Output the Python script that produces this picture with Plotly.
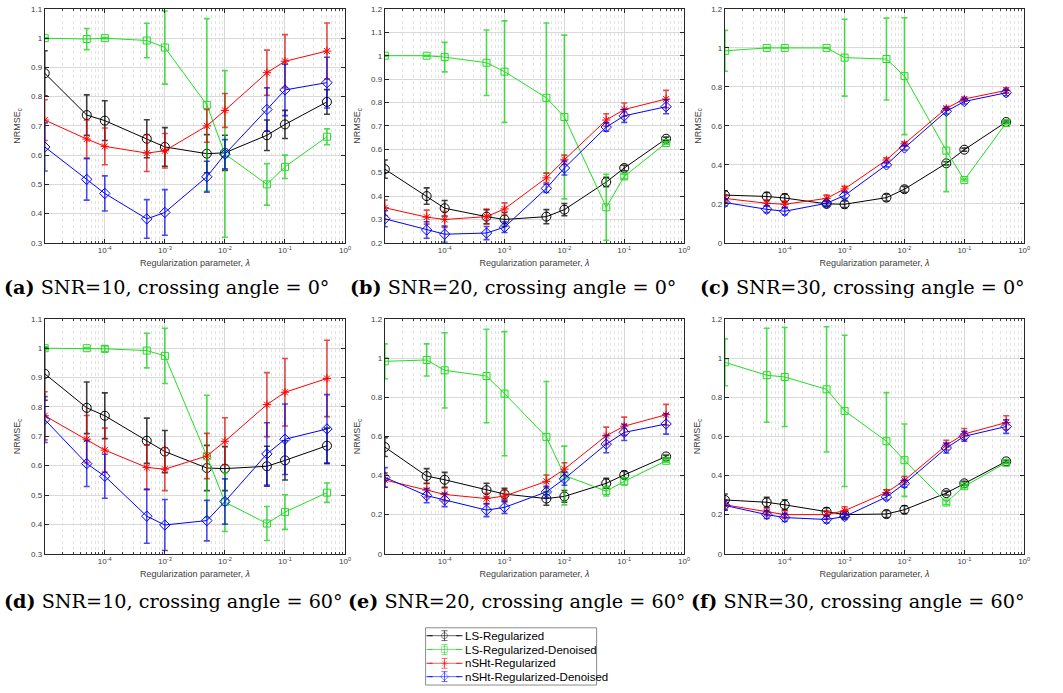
import plotly.graph_objects as go

# Regularization parameter values (x axis, log scale)
lam = [1e-5, 5e-5, 1e-4, 5e-4, 1e-3, 5e-3, 1e-2, 5e-2, 1e-1, 5e-1]

# ---- (a) SNR=10, crossing angle 0 deg ----
a_ls = [0.880, 0.737, 0.718, 0.656, 0.628, 0.605, 0.608, 0.668, 0.705, 0.782]
a_ls_sd = [0.077, 0.069, 0.068, 0.065, 0.066, 0.065, 0.060, 0.052, 0.048, 0.042]
a_lsd = [1.000, 0.997, 1.000, 0.992, 0.968, 0.772, 0.604, 0.500, 0.560, 0.663]
a_lsd_sd = [0.002, 0.036, 0.002, 0.059, 0.125, 0.295, 0.285, 0.071, 0.040, 0.027]
a_sh = [0.720, 0.655, 0.630, 0.607, 0.615, 0.700, 0.753, 0.882, 0.921, 0.956]
a_sh_sd = [0.070, 0.065, 0.063, 0.063, 0.059, 0.056, 0.058, 0.077, 0.091, 0.096]
a_shd = [0.628, 0.517, 0.469, 0.382, 0.404, 0.526, 0.603, 0.756, 0.823, 0.848]
a_shd_sd = [0.082, 0.071, 0.060, 0.066, 0.078, 0.053, 0.050, 0.074, 0.088, 0.087]

# ---- (b) SNR=20, crossing angle 0 deg ----
b_ls = [0.515, 0.400, 0.348, 0.312, 0.300, 0.312, 0.342, 0.460, 0.520, 0.645]
b_ls_sd = [0.039, 0.035, 0.033, 0.030, 0.030, 0.030, 0.026, 0.020, 0.012, 0.007]
b_lsd = [1.000, 1.000, 0.994, 0.970, 0.932, 0.820, 0.738, 0.352, 0.484, 0.627]
b_lsd_sd = [0.002, 0.002, 0.063, 0.140, 0.217, 0.320, 0.350, 0.141, 0.010, 0.005]
b_sh = [0.350, 0.310, 0.300, 0.312, 0.345, 0.478, 0.555, 0.725, 0.770, 0.815]
b_sh_sd = [0.033, 0.030, 0.034, 0.031, 0.026, 0.020, 0.020, 0.027, 0.028, 0.037]
b_shd = [0.303, 0.255, 0.237, 0.242, 0.267, 0.433, 0.520, 0.695, 0.743, 0.782]
b_shd_sd = [0.034, 0.035, 0.035, 0.028, 0.023, 0.018, 0.030, 0.018, 0.028, 0.030]

# ---- (c) SNR=30, crossing angle 0 deg ----
c_ls = [0.245, 0.238, 0.230, 0.200, 0.198, 0.232, 0.275, 0.408, 0.478, 0.620]
c_ls_sd = [0.022, 0.020, 0.020, 0.015, 0.017, 0.017, 0.015, 0.008, 0.008, 0.005]
c_lsd = [0.985, 1.000, 1.000, 1.000, 0.950, 0.943, 0.855, 0.473, 0.322, 0.615]
c_lsd_sd = [0.105, 0.002, 0.002, 0.002, 0.197, 0.210, 0.300, 0.210, 0.005, 0.005]
c_sh = [0.228, 0.203, 0.198, 0.228, 0.277, 0.425, 0.508, 0.690, 0.738, 0.782]
c_sh_sd = [0.018, 0.014, 0.017, 0.017, 0.013, 0.010, 0.009, 0.009, 0.009, 0.014]
c_shd = [0.207, 0.172, 0.162, 0.203, 0.243, 0.400, 0.487, 0.675, 0.725, 0.770]
c_shd_sd = [0.018, 0.017, 0.018, 0.013, 0.015, 0.010, 0.011, 0.014, 0.013, 0.015]

# ---- (d) SNR=10, crossing angle 60 deg ----
d_ls = [0.913, 0.797, 0.770, 0.685, 0.648, 0.592, 0.590, 0.598, 0.618, 0.668]
d_ls_sd = [0.090, 0.088, 0.078, 0.077, 0.072, 0.077, 0.075, 0.068, 0.067, 0.060]
d_lsd = [1.000, 1.000, 0.998, 0.992, 0.974, 0.632, 0.476, 0.403, 0.442, 0.508]
d_lsd_sd = [0.005, 0.002, 0.010, 0.059, 0.094, 0.208, 0.100, 0.058, 0.059, 0.033]
d_sh = [0.770, 0.690, 0.653, 0.594, 0.588, 0.633, 0.683, 0.808, 0.850, 0.897]
d_sh_sd = [0.082, 0.081, 0.075, 0.076, 0.073, 0.077, 0.080, 0.109, 0.115, 0.130]
d_shd = [0.757, 0.607, 0.564, 0.428, 0.398, 0.413, 0.478, 0.640, 0.690, 0.725]
d_shd_sd = [0.078, 0.078, 0.075, 0.092, 0.087, 0.069, 0.077, 0.106, 0.120, 0.117]

# ---- (e) SNR=20, crossing angle 60 deg ----
e_ls = [0.545, 0.397, 0.378, 0.325, 0.305, 0.282, 0.293, 0.360, 0.403, 0.497]
e_ls_sd = [0.048, 0.038, 0.038, 0.035, 0.030, 0.034, 0.030, 0.025, 0.018, 0.007]
e_lsd = [0.983, 0.990, 0.937, 0.908, 0.818, 0.597, 0.400, 0.320, 0.370, 0.475]
e_lsd_sd = [0.089, 0.082, 0.192, 0.239, 0.317, 0.283, 0.150, 0.025, 0.019, 0.007]
e_sh = [0.377, 0.325, 0.303, 0.282, 0.295, 0.370, 0.432, 0.603, 0.652, 0.710]
e_sh_sd = [0.037, 0.035, 0.033, 0.027, 0.030, 0.032, 0.033, 0.044, 0.046, 0.053]
e_shd = [0.390, 0.297, 0.275, 0.223, 0.237, 0.316, 0.383, 0.560, 0.620, 0.663]
e_shd_sd = [0.050, 0.036, 0.034, 0.033, 0.031, 0.029, 0.033, 0.044, 0.041, 0.052]

# ---- (f) SNR=30, crossing angle 60 deg ----
f_ls = [0.275, 0.263, 0.250, 0.215, 0.200, 0.203, 0.225, 0.310, 0.360, 0.472]
f_ls_sd = [0.030, 0.025, 0.026, 0.020, 0.015, 0.018, 0.020, 0.010, 0.010, 0.007]
f_lsd = [0.978, 0.912, 0.903, 0.840, 0.730, 0.575, 0.478, 0.262, 0.345, 0.465]
f_lsd_sd = [0.120, 0.240, 0.253, 0.320, 0.386, 0.248, 0.185, 0.010, 0.008, 0.005]
f_sh = [0.250, 0.213, 0.200, 0.200, 0.220, 0.313, 0.375, 0.555, 0.612, 0.670]
f_sh_sd = [0.025, 0.018, 0.020, 0.020, 0.020, 0.014, 0.020, 0.025, 0.028, 0.035]
f_shd = [0.247, 0.200, 0.185, 0.175, 0.190, 0.290, 0.358, 0.540, 0.600, 0.650]
f_shd_sd = [0.025, 0.020, 0.020, 0.017, 0.015, 0.015, 0.018, 0.025, 0.025, 0.035]

method_names = ["LS-Regularized", "LS-Regularized-Denoised",
                "nSHt-Regularized", "nSHt-Regularized-Denoised"]

captions = [
    ("(a)", "SNR=10, crossing angle = 0°"),
    ("(b)", "SNR=20, crossing angle = 0°"),
    ("(c)", "SNR=30, crossing angle = 0°"),
    ("(d)", "SNR=10, crossing angle = 60°"),
    ("(e)", "SNR=20, crossing angle = 60°"),
    ("(f)", "SNR=30, crossing angle = 60°"),
]

panels = [
    [(a_ls, a_ls_sd), (a_lsd, a_lsd_sd), (a_sh, a_sh_sd), (a_shd, a_shd_sd)],
    [(b_ls, b_ls_sd), (b_lsd, b_lsd_sd), (b_sh, b_sh_sd), (b_shd, b_shd_sd)],
    [(c_ls, c_ls_sd), (c_lsd, c_lsd_sd), (c_sh, c_sh_sd), (c_shd, c_shd_sd)],
    [(d_ls, d_ls_sd), (d_lsd, d_lsd_sd), (d_sh, d_sh_sd), (d_shd, d_shd_sd)],
    [(e_ls, e_ls_sd), (e_lsd, e_lsd_sd), (e_sh, e_sh_sd), (e_shd, e_shd_sd)],
    [(f_ls, f_ls_sd), (f_lsd, f_lsd_sd), (f_sh, f_sh_sd), (f_shd, f_shd_sd)],
]

# y-axis limits and tick spacing for each panel
y_ranges = [(0.3, 1.1), (0.2, 1.2), (0, 1.2), (0.3, 1.1), (0, 1.2), (0, 1.2)]
y_dticks = [0.1, 0.1, 0.2, 0.1, 0.2, 0.2]

# ---- styling ----
line_colors = ["#000000", "#22dd22", "#ff0000", "#0000ff"]
legend_line_colors = ["rgba(0,0,0,0.6)", "rgba(20,220,20,0.6)",
                      "rgba(255,0,0,0.6)", "rgba(0,0,255,0.6)"]
err_colors = ["rgba(0,0,0,0.75)", "rgba(20,210,20,0.75)",
              "rgba(220,0,0,0.7)", "rgba(0,0,230,0.7)"]
markers = ["circle-open", "square-open", "asterisk-open", "diamond-open"]
marker_sizes = [9, 7, 7, 8]

W, H = 1063, 693
col_px = [(45, 347), (387, 688), (729, 1030)]
row_px = [(5, 242), (319, 557)]

def px_x(p):
    return p / W

def px_y(p):
    return 1 - p / H

fig = go.Figure()
axis_font = dict(family="Liberation Sans, Arial, sans-serif", size=8, color="#404040")
title_font = dict(family="Liberation Sans, Arial, sans-serif", size=9, color="#404040")

for i, series in enumerate(panels):
    r, c = divmod(i, 3)
    n = i + 1
    xa = "x" if n == 1 else f"x{n}"
    ya = "y" if n == 1 else f"y{n}"
    for k, (vals, sd) in enumerate(series):
        fig.add_trace(go.Scatter(
            x=lam, y=vals, xaxis=xa, yaxis=ya,
            mode="lines+markers",
            name=method_names[k],
            showlegend=False,
            line=dict(color=line_colors[k], width=1),
            marker=dict(symbol=markers[k], size=marker_sizes[k],
                        color=line_colors[k], line=dict(width=1, color=line_colors[k])),
            error_y=dict(type="data", array=sd, visible=True,
                         color=err_colors[k], thickness=1.6, width=3),
        ))

    x0, x1 = col_px[c]
    top, bot = row_px[r]
    xkey = "xaxis" if n == 1 else f"xaxis{n}"
    ykey = "yaxis" if n == 1 else f"yaxis{n}"
    fig.layout[xkey] = dict(
        type="log", range=[-5, 0],
        domain=[px_x(x0), px_x(x1)], anchor=ya,
        tickvals=[1e-4, 1e-3, 1e-2, 1e-1, 1],
        ticktext=["10<sup>-4</sup>", "10<sup>-3</sup>", "10<sup>-2</sup>",
                  "10<sup>-1</sup>", "10<sup>0</sup>"],
        ticks="inside", ticklen=4, tickcolor="#262626",
        showline=True, linecolor="#262626", linewidth=1, mirror="ticks",
        showgrid=True, gridcolor="#d9d9d9", gridwidth=1,
        minor=dict(dtick="D1", ticks="inside", ticklen=2, tickcolor="#404040",
                   showgrid=True, gridcolor="#e3e3e3", griddash="dot", gridwidth=1),
        tickfont=axis_font, zeroline=False,
        title=dict(text="Regularization parameter, <i>λ</i>", font=title_font, standoff=5),
    )
    lo, hi = y_ranges[i]
    fig.layout[ykey] = dict(
        range=[lo, hi], dtick=y_dticks[i], tick0=0,
        domain=[px_y(bot), px_y(top)], anchor=xa,
        ticks="inside", ticklen=4, tickcolor="#262626",
        showline=True, linecolor="#262626", linewidth=1, mirror="ticks",
        showgrid=True, gridcolor="#d9d9d9", gridwidth=1,
        tickfont=axis_font, zeroline=False,
        title=dict(text="NRMSE<sub>c</sub>", font=title_font, standoff=8),
    )

# sub-figure captions
cap_pos = [(2, 287), (350, 287), (702, 287), (2, 605), (348, 605), (693, 605)]
for (tag, txt), (cx, cy) in zip(captions, cap_pos):
    fig.add_annotation(
        xref="paper", yref="paper", x=px_x(cx), y=px_y(cy),
        xanchor="left", yanchor="middle", showarrow=False,
        text=f"<b>{tag}</b> {txt}",
        font=dict(family="DejaVu Serif, serif", size=19.2, color="#000000"),
    )

# ---- compact legend box drawn on its own small axis ----
leg_x0, leg_x1, leg_top, leg_bot = 428, 600, 632, 690
fig.add_shape(type="rect", xref="paper", yref="paper",
              x0=px_x(leg_x0), x1=px_x(leg_x1), y0=px_y(leg_bot), y1=px_y(leg_top),
              line=dict(color="#8c8c8c", width=1), fillcolor="rgba(0,0,0,0)", layer="above")
fig.layout["xaxis7"] = dict(domain=[px_x(leg_x0), px_x(leg_x1)], range=[0, 172],
                            visible=False, fixedrange=True, anchor="y7")
fig.layout["yaxis7"] = dict(domain=[px_y(leg_bot), px_y(leg_top)], range=[58, 0],
                            visible=False, fixedrange=True, anchor="x7")
row_y = [8, 22, 36, 49.5]
for k, name in enumerate(method_names):
    fig.add_trace(go.Scatter(
        x=[4, 19, 34], y=[row_y[k]] * 3, xaxis="x7", yaxis="y7",
        mode="lines+markers", showlegend=False, hoverinfo="skip",
        line=dict(color=legend_line_colors[k], width=1),
        marker=dict(symbol=markers[k], size=[0, 6, 0],
                    color=legend_line_colors[k], line=dict(width=1, color=legend_line_colors[k])),
        error_y=dict(type="data", array=[0, 5, 0], visible=True,
                     color=legend_line_colors[k], thickness=1, width=3),
    ))
    fig.add_annotation(
        xref="x7", yref="y7", x=38, y=row_y[k], xanchor="left", yanchor="middle",
        showarrow=False, text=name,
        font=dict(family="Liberation Sans, Arial, sans-serif", size=11.5, color="#000000"),
    )

fig.update_layout(
    width=W, height=H,
    margin=dict(l=0, r=0, t=0, b=0),
    paper_bgcolor="white", plot_bgcolor="white",
    showlegend=False,
)

fig.write_html("out.html")
